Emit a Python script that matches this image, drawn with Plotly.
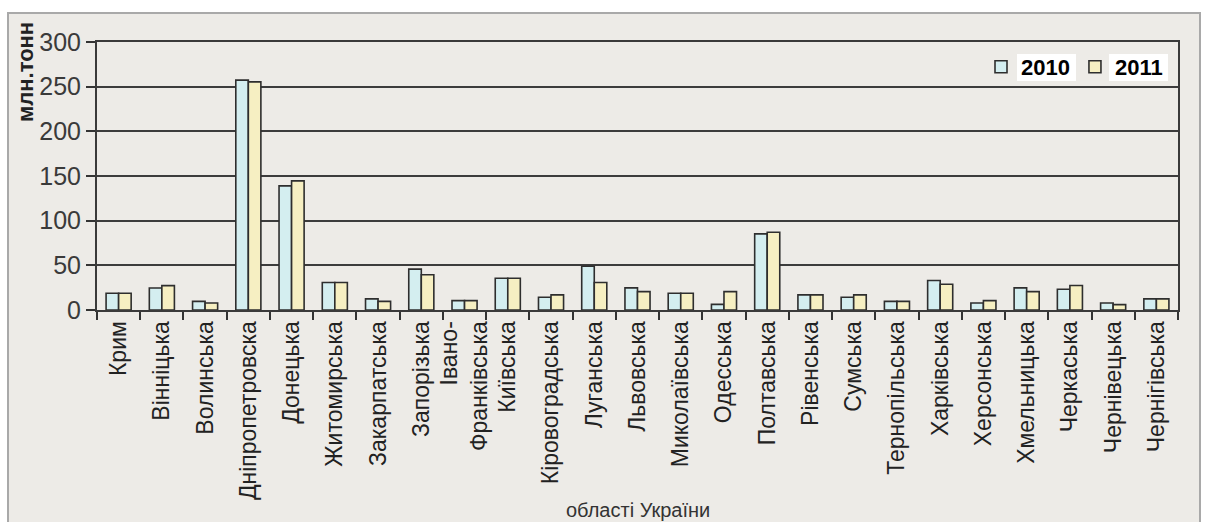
import plotly.graph_objects as go

regions = ["Крим", "Вінніцька", "Волинська", "Дніпропетровска", "Донецька",
           "Житомирська", "Закарпатська", "Запорізька", "Івано-<br>Франківська",
           "Київська", "Кіровоградська", "Луганська", "Львовська", "Миколаївська",
           "Одесська", "Полтавська", "Рівенська", "Сумська", "Тернопільська",
           "Харківська", "Херсонська", "Хмельницька", "Черкаська", "Чернівецька",
           "Чернігівська"]
v2010 = [18.7, 24.7, 9.7, 257.3, 138.9, 30.7, 12.4, 45.8, 10.5, 35.6, 14.2, 49.0,
         24.8, 18.7, 6.3, 85.2, 16.9, 14.2, 9.7, 33.0, 7.9, 24.8, 23.2, 7.9, 12.4]
v2011 = [18.7, 27.3, 7.9, 255.4, 144.5, 30.7, 9.7, 39.5, 10.5, 35.6, 16.9, 30.8,
         20.6, 18.7, 20.6, 87.1, 16.9, 16.9, 9.7, 28.9, 10.5, 20.6, 27.4, 6.0, 12.4]
y_ticks = [0, 50, 100, 150, 200, 250, 300]

W, H = 1207, 522
L, R, T, B = 97, 29, 42, 212
pw, ph = W - L - R, H - T - B

def px_x(p):
    return (p - L) / pw

def px_y(p):
    return (H - B - p) / ph

FONT = "Liberation Sans, Arial, sans-serif"

fig = go.Figure()
fig.add_trace(go.Bar(name="<b>2010</b>", x=regions, y=v2010,
                     marker=dict(color="#d4eef0", line=dict(color="#2e2e2e", width=1.6))))
fig.add_trace(go.Bar(name="<b>2011</b>", x=regions, y=v2011,
                     marker=dict(color="#f6efc2", line=dict(color="#2e2e2e", width=1.6))))

fig.update_layout(
    width=W, height=H,
    margin=dict(l=L, r=R, t=T, b=B, autoexpand=False),
    paper_bgcolor="#ffffff",
    plot_bgcolor="#d8dce0",
    barmode="group", bargap=0.42, bargroupgap=0.0,
    font=dict(family=FONT, color="#333333"),
    showlegend=True,
    legend=dict(orientation="h", x=px_x(1168), xanchor="right", y=px_y(67), yanchor="middle",
                bgcolor="rgba(0,0,0,0)", font=dict(size=22, color="#000000", family=FONT),
                itemwidth=30, traceorder="normal", tracegroupgap=0),
    xaxis=dict(type="category", showgrid=False, ticks="outside", tickson="boundaries",
               ticklen=8, tickwidth=2, tickcolor="#333333", tickangle=-90,
               tickfont=dict(size=23, color="#222222", family=FONT),
               showline=True, linecolor="#3a3a3a", linewidth=2, mirror=True,
               automargin=False),
    yaxis=dict(range=[0, 300], tickvals=y_ticks, showgrid=True, gridcolor="#3c3c3c",
               gridwidth=2, ticks="outside", ticklen=9, tickwidth=2, tickcolor="#333333",
               tickfont=dict(size=25, color="#3a3a3a", family=FONT),
               showline=True, linecolor="#3a3a3a", linewidth=2, mirror=True,
               zeroline=False, automargin=False),
    shapes=[
        dict(type="rect", xref="paper", yref="paper", layer="below",
             x0=px_x(8), x1=px_x(1200), y0=px_y(530), y1=px_y(13),
             fillcolor="#edebe7", line=dict(color="#a9a9a9", width=2)),
        dict(type="rect", xref="paper", yref="paper", layer="above",
             x0=px_x(1017), x1=px_x(1076), y0=px_y(81), y1=px_y(54),
             fillcolor="#ffffff", line=dict(width=0)),
        dict(type="rect", xref="paper", yref="paper", layer="above",
             x0=px_x(1109), x1=px_x(1168), y0=px_y(81), y1=px_y(54),
             fillcolor="#ffffff", line=dict(width=0)),
    ],
    annotations=[
        dict(text="області України", xref="paper", yref="paper", x=0.5, y=px_y(510),
             xanchor="center", yanchor="middle", showarrow=False,
             font=dict(size=20, color="#333333", family=FONT)),
        dict(text="<b>млн.тонн</b>", xref="paper", yref="paper", x=px_x(25), y=px_y(72),
             xanchor="center", yanchor="middle", showarrow=False, textangle=-90,
             font=dict(size=22, color="#222222", family=FONT)),
    ],
)

fig.write_html("out.html")
